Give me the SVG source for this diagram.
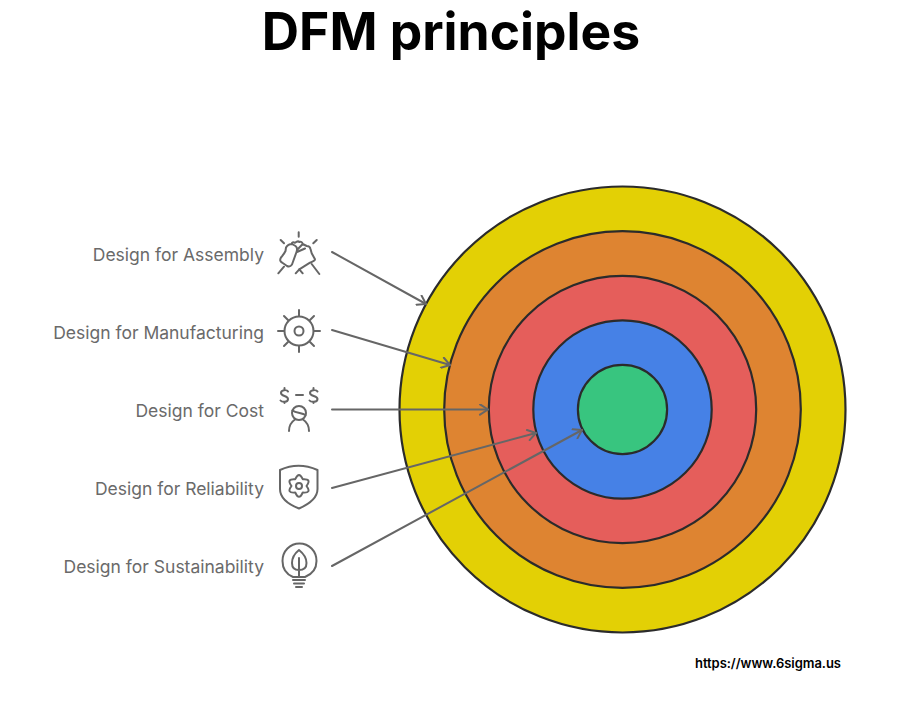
<svg xmlns="http://www.w3.org/2000/svg" width="903" height="717" viewBox="0 0 903 717">
<style>
.ring{stroke:#2b2b2b;stroke-width:2.200}
.lbl{font-family:"Inter","Liberation Sans",sans-serif;font-size:17.500px;fill:#6a6a6a;text-anchor:end}
.ico{fill:none;stroke:#666;stroke-width:2;stroke-linecap:round;stroke-linejoin:round}
.conn{fill:none;stroke:#666;stroke-width:2;stroke-linecap:round;stroke-linejoin:round}
</style>
<defs>
<marker id="arr" viewBox="0 0 12 12" refX="11" refY="6" markerWidth="12" markerHeight="12" markerUnits="userSpaceOnUse" orient="auto">
<path d="M3 0.8L11 6L3 11.2" fill="none" stroke="#666" stroke-width="2" stroke-linecap="round" stroke-linejoin="round"/>
</marker>
</defs>
<rect width="903" height="717" fill="#fff"/>
<text id="title" x="451" y="50" text-anchor="middle" style="font-family:'Inter','Liberation Sans',sans-serif;font-size:51.600px;font-weight:700;fill:#000">DFM principles</text>
<g id="rings">
<circle id="ring-assembly" class="ring" cx="622.5" cy="409.5" r="223" fill="#e3d005"/>
<circle id="ring-manufacturing" class="ring" cx="622.5" cy="409.5" r="178.3" fill="#de8431"/>
<circle id="ring-cost" class="ring" cx="622.5" cy="409.5" r="133.7" fill="#e55e5b"/>
<circle id="ring-reliability" class="ring" cx="622.5" cy="409.5" r="89.2" fill="#4681e6"/>
<circle id="ring-sustainability" class="ring" cx="622.5" cy="409.5" r="44.6" fill="#38c57f"/>
</g>
<g id="connectors">
<path class="conn" marker-end="url(#arr)" d="M332 252L426 304"/>
<path class="conn" marker-end="url(#arr)" d="M332 330L450 365"/>
<path class="conn" marker-end="url(#arr)" d="M332 409.5L488 409.5"/>
<path class="conn" marker-end="url(#arr)" d="M332 488L536 433"/>
<path class="conn" marker-end="url(#arr)" d="M332 566L582 430"/>
</g>
<g id="node-assembly">
<text class="lbl" x="264" y="260.500">Design for Assembly</text>
<path class="ico" d="M298.700 232.300V236.700M280.700 240L284 243.300M316.700 240L313.300 243.300M278.300 273.300L284 266.700M319.300 274L311.700 264M295.700 273.300L299.300 269.300L302.700 273.300"/>
<path class="ico" d="M281 257.500Q279 261 282 262.500L287 266Q290 267.500 292 264.500L296.500 252Q298 248 295.500 246L292 244Q288 244 286 247.500L285.500 251Q284 254 281 257.500ZM291.700 244Q292 241.500 295 242.700Q298 240.500 299.300 242Q302 241 302.700 244L297 250M302.700 244L306.700 246Q310 246 310.500 249L311.700 253.300L315 259.300Q315 261 310 262.700L299.300 269.300M297 252L305 248.500"/>
</g>
<g id="node-manufacturing">
<text class="lbl" x="264" y="338.500">Design for Manufacturing</text>
<circle class="ico" cx="299" cy="331" r="14.5"/>
<circle class="ico" cx="299" cy="331" r="4.5"/>
<path class="ico" d="M299 310V316M299 346V352M278 331H284M314 331H320M284 316L288 320M310 342L314 346M314 316L310 320M288 342L284 346"/>
</g>
<g id="node-cost">
<text class="lbl" x="264" y="416.500">Design for Cost</text>
<path class="ico" d="M288 391.500C287 389.500 281 389.500 281 393C281 396.500 288 395.500 288 399C288 402.500 282 402.500 280.500 400.500M284.500 388V389.500M284.500 402V403M296 395H303M317.500 391.500C316.500 389.500 310 389.500 310 393C310 396.500 317.500 395.500 317.500 399C317.500 402.500 311 402.500 309.500 400.500M313.500 388V389.500M313.500 402V403"/>
<circle class="ico" cx="299" cy="413" r="7"/>
<path class="ico" d="M292.500 410.500C296 413 302 413 305.500 415M289 431C289 425 292 421.500 295 419.500M309 431C309 425 306 421.500 303 419.500"/>
</g>
<g id="node-reliability">
<text class="lbl" x="264" y="494.500">Design for Reliability</text>
<path class="ico" d="M280 470C292 464.500 305 464.500 317.500 470V489C317.500 499 307 505 299 508.500C290 505 280 499 280 489Z"/>
<path class="ico" d="M302.750 479.200Q299 471 295.250 479.200Q286 478.500 291.500 486Q286 493.500 295.250 492.500Q299 501 302.750 492.500Q312 493.500 306.500 486Q312 478.500 302.750 479.200Z"/>
<circle class="ico" cx="299" cy="486" r="3"/>
</g>
<g id="node-sustainability">
<text class="lbl" x="264" y="572.500">Design for Sustainability</text>
<path class="ico" d="M293 577C286 574 282.500 568 282.500 561C282.500 551 290 543.500 299.500 543.500C309 543.500 316.500 551 316.500 561C316.500 568 312.500 574 305 577Z"/>
<path class="ico" d="M299 550C294 554 292 559 292 563C292 568 295 570 299 570C303 570 306.500 568 306.500 563C306.500 559 304 554 299 550ZM299 558V577M293 580H305M294 583.500H304M296 587H302"/>
</g>
<text id="url" x="695" y="668" style="font-family:'Inter','Liberation Sans',sans-serif;font-size:13px;font-weight:600;letter-spacing:-0.05px;fill:#000">https://www.6sigma.us</text>
</svg>
